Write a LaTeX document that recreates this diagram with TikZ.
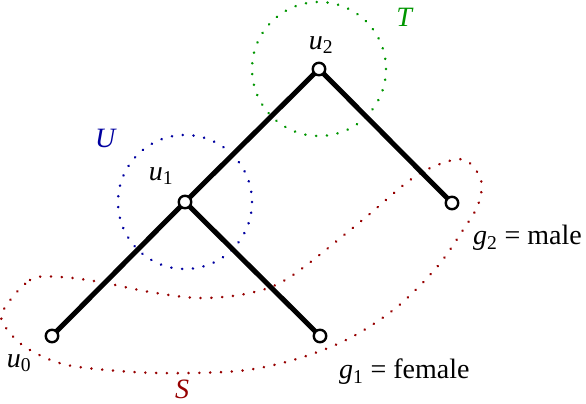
\documentclass[tikz,border=0pt]{standalone}
\usepackage{fontspec}
\setmainfont{Liberation Serif}
\begin{document}
\begin{tikzpicture}[x=1pt,y=-1pt,
  vert/.style={circle,draw=black,fill=white,line width=2.4pt,minimum size=12.5pt,inner sep=0pt},
  edge/.style={line width=5pt},
  dotline/.style={line width=2.8pt,dash pattern=on 0.01pt off 10.8pt,line cap=round},
  lab/.style={font=\fontsize{28}{33}\selectfont,inner sep=0pt}]
\useasboundingbox (0,0) rectangle (586,404);
\definecolor{tgreen}{RGB}{0,150,0}
\definecolor{ublue}{RGB}{0,0,160}
\definecolor{sred}{RGB}{150,0,0}
% sets
\draw[dotline,tgreen] (319,69) circle[radius=67];
\draw[dotline,ublue] (185,202) circle[radius=67];
\draw[dotline,sred] plot[smooth cycle,tension=0.55] coordinates {
  (2,313) (30,280) (60,277) (100,282) (150,292) (200,298) (250,293)
  (290,277) (360,222) (410,180) (440,164) (465,160) (481,180)
  (478,205) (463,230) (437,267) (397,307) (350,338) (300,358)
  (247,370) (190,373) (133,372) (67,365) (30,350) (10,333)};
% tree
\coordinate (p2) at (319,69);
\coordinate (p1) at (185,202);
\coordinate (p0) at (52,336);
\coordinate (pg1) at (320,336);
\coordinate (pg2) at (452,203);
\draw[edge] (p2) -- (p1);
\draw[edge] (p2) -- (pg2);
\draw[edge] (p1) -- (p0);
\draw[edge] (p1) -- (pg1);
\node[vert] (u2) at (p2) {};
\node[vert] (u1) at (p1) {};
\node[vert] (u0) at (p0) {};
\node[vert] (g1) at (pg1) {};
\node[vert] (g2) at (pg2) {};
% labels
\node[lab] (lu2) at (321,45) {\textit{u}\textsubscript{2}};
\node[lab] (lu1) at (161,176) {\textit{u}\textsubscript{1}};
\node[lab] (lu0) at (19,363) {\textit{u}\textsubscript{0}};
\node[lab,text=tgreen] (lT) at (405,17) {\textit{T}};
\node[lab,text=ublue] (lU) at (106,138) {\textit{U}};
\node[lab,text=sred] (lS) at (182,389) {\textit{S}};
\node[lab,anchor=west] (lg1) at (339,372) {\textit{g}\textsubscript{1} = female};
\node[lab,anchor=west] (lg2) at (473,238) {\textit{g}\textsubscript{2} = male};
\end{tikzpicture}
\end{document}
